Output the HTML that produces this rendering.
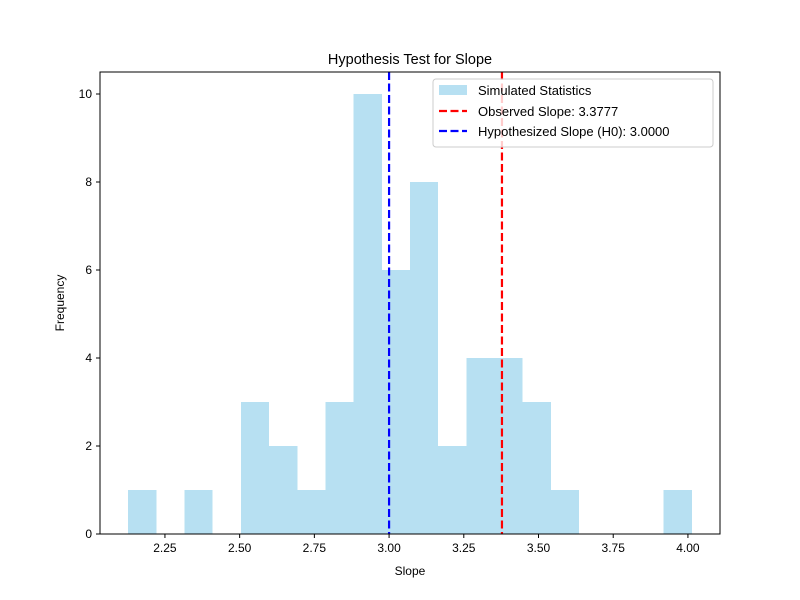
<!DOCTYPE html>
<html><head><meta charset="utf-8"><style>body{margin:0;background:#fff}svg{display:block;font-family:"Liberation Sans","DejaVu Sans",sans-serif}</style></head>
<body>
<svg id="chart" width="800" height="600"></svg>
<script>
const binCounts=[1,0,1,0,3,2,1,3,10,6,8,2,4,4,3,1,0,0,0,1];
const dataMin=2.127, dataMax=4.013;
const xTicks=[2.25,2.5,2.75,3.0,3.25,3.5,3.75,4.0];
const xTickLabels=["2.25","2.50","2.75","3.00","3.25","3.50","3.75","4.00"];
const yTicks=[0,2,4,6,8,10];
const observedSlope=3.3777, hypothesizedSlope=3.0;
const L=100,R=720,T=72,B=534;
const span=dataMax-dataMin, xmin=dataMin-span*0.05, xmax=dataMax+span*0.05;
const ymax=10.5;
const X=v=>L+(v-xmin)/(xmax-xmin)*(R-L);
const Y=v=>B-v/ymax*(B-T);
const svg=document.getElementById('chart');
const NS='http://www.w3.org/2000/svg';
function mk(t,a,txt){const e=document.createElementNS(NS,t);for(const k in a)e.setAttribute(k,a[k]);if(txt!==undefined)e.textContent=txt;svg.appendChild(e);return e;}
const bw=span/binCounts.length;
binCounts.forEach((c,i)=>{if(!c)return;const x0=X(dataMin+i*bw),x1=X(dataMin+(i+1)*bw);
const r=mk('rect',{x:x0,y:Y(c),width:x1-x0,height:Y(0)-Y(c),fill:'#b7e0f2','shape-rendering':'crispEdges'});

});
const lo=mk('line',{x1:X(observedSlope),x2:X(observedSlope),y1:T,y2:B,stroke:'#ff0000','stroke-width':2.2,'stroke-dasharray':'8,3.5'});

const lh=mk('line',{x1:X(hypothesizedSlope),x2:X(hypothesizedSlope),y1:T,y2:B,stroke:'#0000ff','stroke-width':2.2,'stroke-dasharray':'8,3.5'});

const ax=mk('rect',{x:L,y:T,width:R-L,height:B-T,fill:'none',stroke:'#000','stroke-width':1});

xTicks.forEach((v,i)=>{mk('line',{x1:X(v),x2:X(v),y1:B,y2:B+4,stroke:'#000'});
const t=mk('text',{x:X(v),y:B+18,'font-size':12,'text-anchor':'middle'},xTickLabels[i]);
});
yTicks.forEach(v=>{mk('line',{x1:L-4,x2:L,y1:Y(v),y2:Y(v),stroke:'#000'});
const t=mk('text',{x:L-8,y:Y(v)+4,'font-size':12,'text-anchor':'end'},String(v));
});
</script>
<svg width="800" height="600" style="position:absolute;left:0;top:0;font-family:'Liberation Sans','DejaVu Sans',sans-serif">
<text x="410" y="64" font-size="14.5" text-anchor="middle">Hypothesis Test for Slope</text>
<text x="410" y="575" font-size="12" text-anchor="middle">Slope</text>
<text x="64" y="303" font-size="12" text-anchor="middle" transform="rotate(-90 64 303)">Frequency</text>
<g>
<rect x="433" y="79" width="280" height="68" rx="3" fill="#fff" fill-opacity="0.8" stroke="#ccc"/>
<rect x="439" y="85" width="28" height="10" fill="#b7e0f2"/>
<text x="478" y="95" font-size="13">Simulated Statistics</text>
<line x1="439" x2="467" y1="111" y2="111" stroke="#f00" stroke-width="2.2" stroke-dasharray="8,3.5"/>
<text x="478" y="116" font-size="13">Observed Slope: 3.3777</text>
<line x1="439" x2="467" y1="131" y2="131" stroke="#00f" stroke-width="2.2" stroke-dasharray="8,3.5"/>
<text x="478" y="136" font-size="13">Hypothesized Slope (H0): 3.0000</text>
</g>
</svg>
</body></html>
